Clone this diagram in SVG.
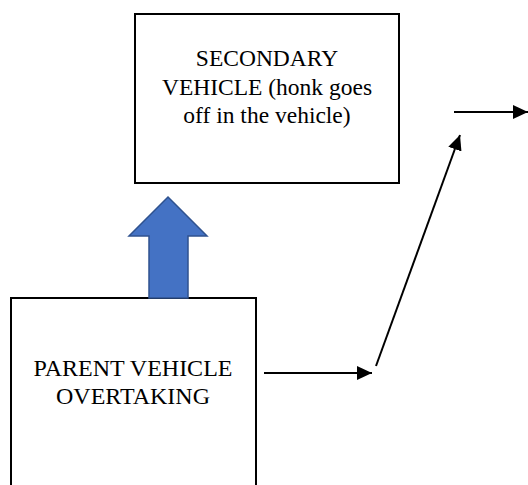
<svg xmlns="http://www.w3.org/2000/svg" width="528" height="485" viewBox="0 0 528 485">
<style>
.box{fill:#fff;stroke:#000;stroke-width:2}
.lbl{font-family:"Liberation Serif","Times New Roman",serif;font-size:23.5px;fill:#000;text-anchor:middle}
.big{font-size:24px}
.conn{stroke:#000;stroke-width:2;fill:none;marker-end:url(#ah)}
</style>
<defs>
<marker id="ah" markerUnits="userSpaceOnUse" markerWidth="15" markerHeight="14" refX="15" refY="7" orient="auto">
<path d="M0,0 L15,7 L0,14 z" fill="#000"/>
</marker>
</defs>
<rect width="528" height="485" fill="#fff"/>
<g id="secondary">
<rect class="box" x="135" y="14" width="264" height="169"/>
<text class="lbl" x="267" y="66">SECONDARY</text>
<text class="lbl" x="267" y="94.5">VEHICLE (honk goes</text>
<text class="lbl" x="267" y="122.5">off in the vehicle)</text>
</g>
<g id="parent">
<rect class="box" x="11" y="298" width="245" height="200"/>
<text class="lbl big" x="133" y="376">PARENT VEHICLE</text>
<text class="lbl big" x="133" y="404">OVERTAKING</text>
</g>
<g id="block-arrow">
<polygon points="168,197 207,236 188,236 188,298 149,298 149,236 129,236" fill="#4472C4" stroke="#2F528F" stroke-width="1.5"/>
</g>
<g id="connectors">
<line class="conn" x1="264" y1="373" x2="372" y2="373"/>
<line class="conn" x1="376" y1="366" x2="460" y2="135"/>
<line class="conn" x1="454" y1="112" x2="528" y2="112"/>
</g>
</svg>
